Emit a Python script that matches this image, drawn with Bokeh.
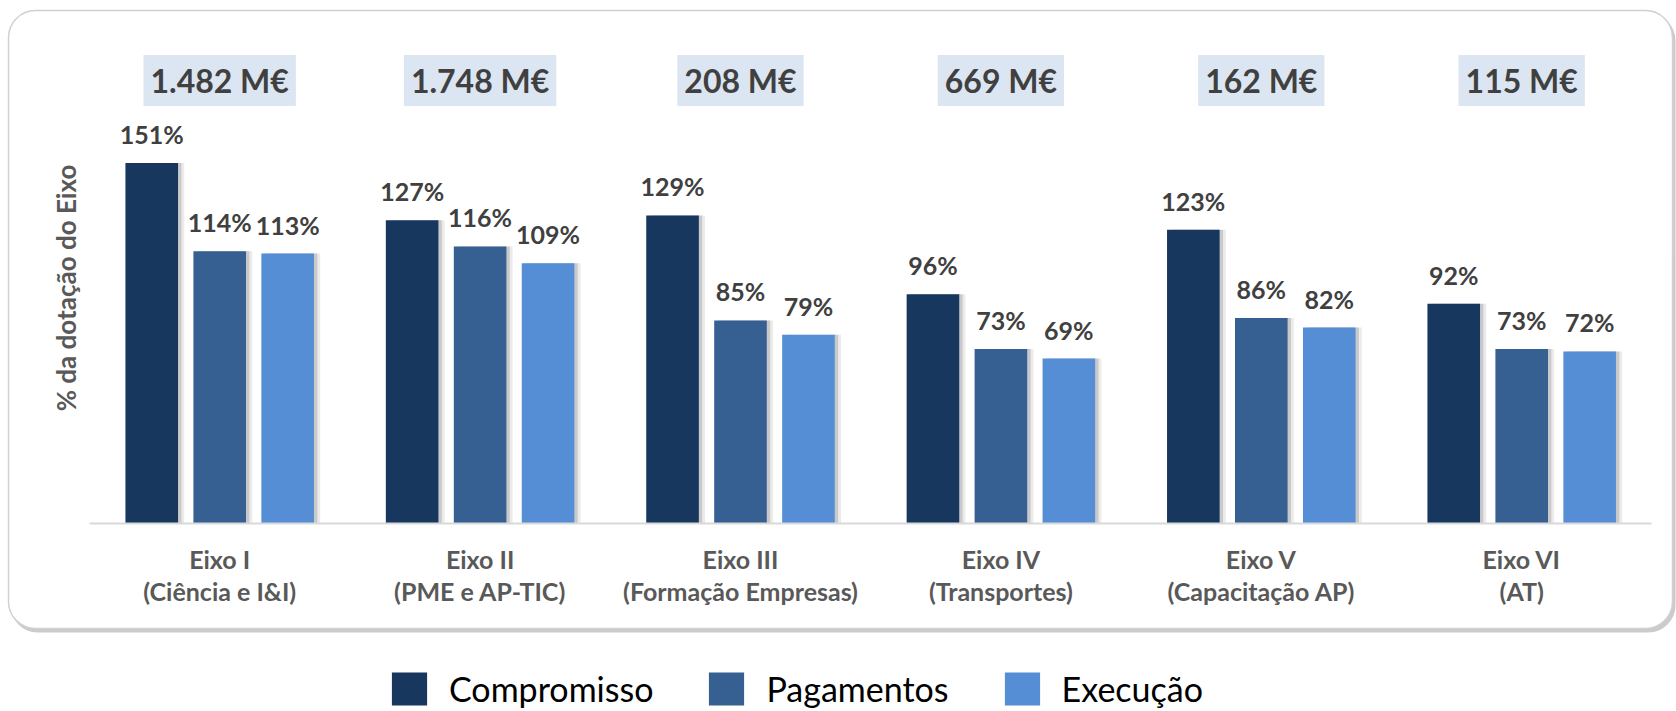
from bokeh.plotting import figure
from bokeh.models import (Range1d, BoxAnnotation, Legend, LegendItem,
                          FixedTicker, ColumnDataSource)
from bokeh.transform import dodge
from bokeh.core.properties import value
from bokeh.embed import file_html
from bokeh.resources import INLINE

# ---- data ----
eixos = ["Eixo I", "Eixo II", "Eixo III", "Eixo IV", "Eixo V", "Eixo VI"]
temas = ["(Ciência e I&I)", "(PME e AP-TIC)", "(Formação Empresas)",
         "(Transportes)", "(Capacitação AP)", "(AT)"]
dotacao = ["1.482 M€", "1.748 M€", "208 M€", "669 M€", "162 M€", "115 M€"]
compromisso = [151, 127, 129, 96, 123, 92]
pagamentos = [114, 116, 85, 73, 86, 73]
execucao = [113, 109, 79, 69, 82, 72]
series_names = ["Compromisso", "Pagamentos", "Execução"]

# ---- styling / layout ----
colors = ["#17375e", "#366092", "#558ed5"]
FONT = "Lato"
W, H = 1676, 711
PX_PER_CAT = 260.4      # horizontal pixels per category
FIRST_CENTER = 219.2    # pixel of first category centre
PX_PER_PCT = 2.386      # vertical pixels per percentage point
BASELINE = 522.7        # pixel row of the zero line

xs = list(range(len(eixos)))
labels = {i: f"{e}\n{t}" for i, e, t in zip(xs, eixos, temas)}
series = [compromisso, pagamentos, execucao]
keys = ["compromisso", "pagamentos", "execucao"]

data = dict(xi=xs, dotacao=dotacao)
for k, s in zip(keys, series):
    data[k] = s
    data[k + "_lab"] = [f"{v}%" for v in s]
src = ColumnDataSource(data)

x_start = -FIRST_CENTER / PX_PER_CAT
y_start = -(H - BASELINE) / PX_PER_PCT
p = figure(width=W, height=H,
           x_range=Range1d(x_start, x_start + W / PX_PER_CAT),
           y_range=Range1d(y_start, y_start + H / PX_PER_PCT),
           output_backend="svg", toolbar_location=None,
           min_border_left=0, min_border_right=0,
           min_border_top=0, min_border_bottom=0)
p.background_fill_color = "white"
p.border_fill_color = "white"
p.outline_line_color = None
p.xgrid.visible = False
p.ygrid.visible = False

# outer rounded panel with shadow
cu = dict(left_units="canvas", right_units="canvas",
          top_units="canvas", bottom_units="canvas")
shadow = BoxAnnotation(left=10, right=1675, top=13, bottom=632, **cu,
                       fill_color="#8c8c8c", fill_alpha=0.45, line_color=None,
                       border_radius=27, level="underlay")
panel = BoxAnnotation(left=8, right=1672, top=10, bottom=628, **cu,
                      fill_color="white", fill_alpha=1.0, line_color="#d0d0d0",
                      line_alpha=1.0, line_width=1.5, line_dash="solid",
                      border_radius=27, level="underlay")
p.add_layout(shadow)
p.add_layout(panel)

bw = 0.202
offsets = [-0.261, 0.0, 0.261]

# bar shadows
for off, k in zip(offsets, keys):
    p.vbar(x=dodge("xi", off + 0.024), top=k, width=bw, source=src,
           fill_color="#000000", fill_alpha=0.08, line_color=None)
    p.vbar(x=dodge("xi", off + 0.013), top=k, width=bw, source=src,
           fill_color="#000000", fill_alpha=0.14, line_color=None)

renderers = []
for off, k, c in zip(offsets, keys, colors):
    r = p.vbar(x=dodge("xi", off), top=k, width=bw, source=src,
               fill_color=c, line_color=None)
    renderers.append(r)
    p.text(x=dodge("xi", off), y=k, text=k + "_lab", source=src,
           text_font=value(FONT), text_font_style="bold", text_font_size="25px",
           text_color="#404040", text_align="center", text_baseline="alphabetic",
           y_offset=-29)

# allocation boxes
p.text(x="xi", y=185.5, text="dotacao", source=src,
       text_font=value(FONT), text_font_style="bold", text_font_size="32px",
       text_color="#404040", text_align="center", text_baseline="middle",
       background_fill_color="#dce6f2",
       padding=dict(left=7, right=7, top=6, bottom=6))

# y axis (title only)
p.yaxis.fixed_location = -0.5
p.yaxis.bounds = (0, 197.4)
p.yaxis.ticker = FixedTicker(ticks=[])
p.yaxis.axis_line_color = None
p.yaxis.major_tick_line_color = None
p.yaxis.minor_tick_line_color = None
p.yaxis.major_tick_out = 0
p.yaxis.major_label_standoff = 0
p.yaxis.axis_label = "% da dotação do Eixo"
p.yaxis.axis_label_text_font = FONT
p.yaxis.axis_label_text_font_size = "26px"
p.yaxis.axis_label_text_font_style = "bold"
p.yaxis.axis_label_text_color = "#595959"
p.yaxis.axis_label_standoff = 8

# x axis
p.xaxis.fixed_location = 0
p.xaxis.bounds = (-0.5, len(eixos) - 0.5)
p.xaxis.ticker = FixedTicker(ticks=xs)
p.xaxis.major_label_overrides = labels
p.xaxis.axis_line_color = "#d9d9d9"
p.xaxis.axis_line_width = 2
p.xaxis.major_tick_line_color = None
p.xaxis.minor_tick_line_color = None
p.xaxis.major_tick_out = 0
p.xaxis.major_label_standoff = 21
p.xaxis.major_label_text_font = FONT
p.xaxis.major_label_text_font_size = "25px"
p.xaxis.major_label_text_font_style = "bold"
p.xaxis.major_label_text_color = "#595959"
p.xaxis.major_label_text_line_height = 1.05

legend = Legend(items=[LegendItem(label=n, renderers=[r]) for n, r in zip(series_names, renderers)],
                orientation="horizontal", location=(387, 2),
                glyph_width=44, glyph_height=41, label_height=41,
                label_standoff=18, spacing=51, padding=0, margin=0,
                border_line_color=None, background_fill_alpha=0,
                label_text_font=FONT, label_text_font_size="34px",
                label_text_color="#000000")
p.add_layout(legend, "center")

open("out.html", "w").write(file_html(p, INLINE))
